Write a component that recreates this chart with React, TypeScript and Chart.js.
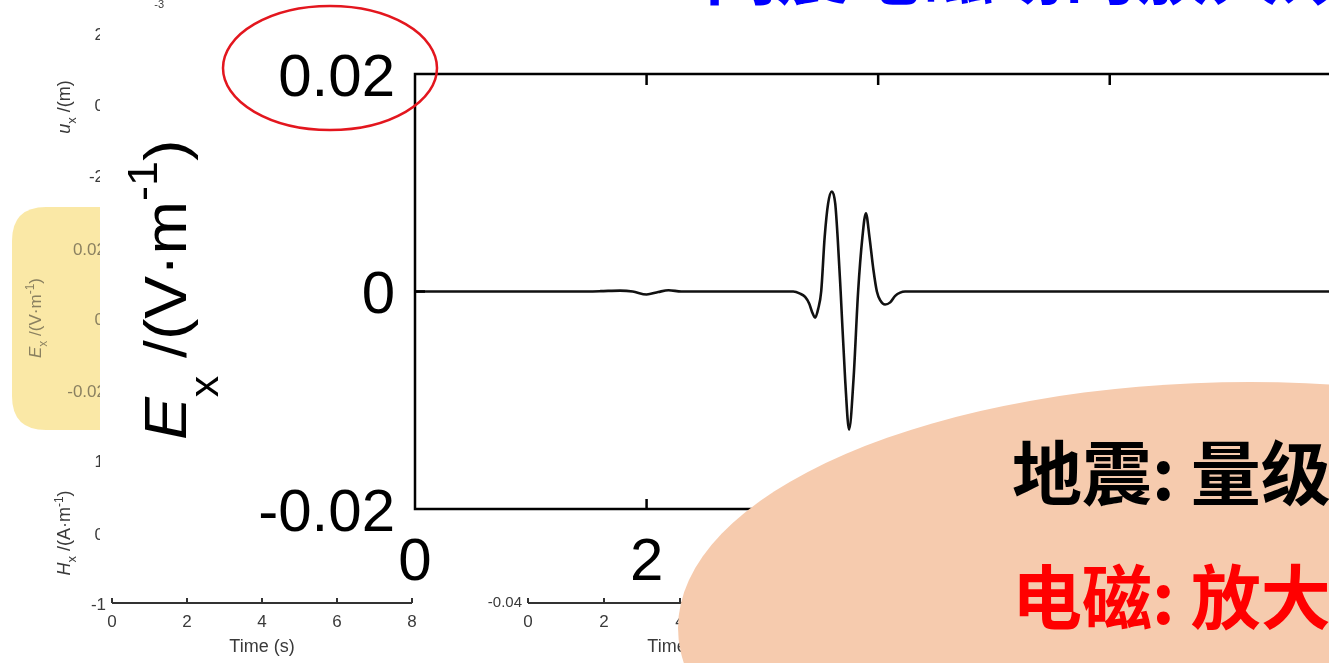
import React, { useEffect, useRef } from "react";
import { Chart, registerables } from "chart.js";

Chart.register(...registerables);

// ---- data ----
const timeS = [
  0, 0.5, 1.0, 1.4, 1.6, 1.77, 1.88, 2.0, 2.1, 2.19, 2.3, 2.6, 3.0,
  3.266, 3.326, 3.369, 3.404, 3.43, 3.456, 3.482, 3.508, 3.538, 3.568, 3.6,
  3.629, 3.65, 3.676, 3.715, 3.749, 3.787, 3.827, 3.864, 3.894, 3.925, 3.959,
  3.989, 4.017, 4.06, 4.104, 4.147, 4.19, 4.233,
  4.6, 5.0, 5.5, 6.0, 7.0, 8.0,
];
const exVm = [
  0, 0, 0, 0, 0.00003, 0.00008, 0, -0.00028, -0.00005, 0.00012, 0, 0, 0,
  0, -0.0002, -0.0005, -0.0011, -0.0019, -0.0024, -0.0016, 0, 0.005, 0.0081, 0.0092,
  0.0081, 0.005, 0, -0.0081, -0.0127, -0.0081, 0, 0.005, 0.0072, 0.005, 0.002,
  0, -0.0008, -0.0012, -0.001, -0.0004, -0.0001, 0,
  0, 0, 0, 0, 0, 0,
];
const xTickValues = [0, 2, 4, 6, 8];
const yTickValues = [-0.02, 0, 0.02];
const yTickLabels = ["-0.02", "0", "0.02"];
const smallTimeTicks = ["0", "2", "4", "6", "8"];

const SANS = '"Liberation Sans", Arial, sans-serif';
const CJK = '"Noto Sans CJK SC", "Noto Sans CJK TC", sans-serif';

type Seg = { t: string; font: string; dy?: number };

function drawRich(
  ctx: CanvasRenderingContext2D,
  segs: Seg[],
  x: number,
  y: number,
  angle: number,
  scaleX: number,
  center: boolean,
  color: string
) {
  ctx.save();
  ctx.translate(x, y);
  ctx.rotate(angle);
  ctx.scale(scaleX, 1);
  ctx.fillStyle = color;
  ctx.textAlign = "left";
  ctx.textBaseline = "alphabetic";
  let total = 0;
  for (const s of segs) {
    ctx.font = s.font;
    total += ctx.measureText(s.t).width;
  }
  let cx = center ? -total / 2 : 0;
  for (const s of segs) {
    ctx.font = s.font;
    ctx.fillText(s.t, cx, s.dy || 0);
    cx += ctx.measureText(s.t).width;
  }
  ctx.restore();
}

function roundRect(ctx: CanvasRenderingContext2D, x: number, y: number, w: number, h: number, r: number) {
  ctx.beginPath();
  ctx.moveTo(x + r, y);
  ctx.lineTo(x + w - r, y);
  ctx.quadraticCurveTo(x + w, y, x + w, y + r);
  ctx.lineTo(x + w, y + h - r);
  ctx.quadraticCurveTo(x + w, y + h, x + w - r, y + h);
  ctx.lineTo(x + r, y + h);
  ctx.quadraticCurveTo(x, y + h, x, y + h - r);
  ctx.lineTo(x, y + r);
  ctx.quadraticCurveTo(x, y, x + r, y);
  ctx.closePath();
}

const decoPlugin = {
  id: "deco",
  beforeDraw(chart: any) {
    const ctx: CanvasRenderingContext2D = chart.ctx;
    ctx.save();
    ctx.fillStyle = "#ffffff";
    ctx.fillRect(0, 0, chart.width, chart.height);

    const gray = "#3a3a3a";
    ctx.fillStyle = gray;
    ctx.textAlign = "right";
    ctx.textBaseline = "middle";
    ctx.font = `11px ${SANS}`;
    ctx.fillText("-3", 164, 5);
    ctx.font = `17px ${SANS}`;
    ctx.fillText("2", 104, 35);
    ctx.fillText("0", 104, 106);
    ctx.fillText("-2", 104, 177);
    drawRich(ctx, [
      { t: "u", font: `italic 18px ${SANS}` },
      { t: "x", font: `13px ${SANS}`, dy: 6 },
      { t: " /(m)", font: `18px ${SANS}` },
    ], 70, 107, -Math.PI / 2, 1, true, gray);

    ctx.fillStyle = "#FAE8A6";
    roundRect(ctx, 12, 207, 140, 223, 34);
    ctx.fill();
    const olive = "#8a8060";
    ctx.fillStyle = olive;
    ctx.textAlign = "right";
    ctx.font = `17px ${SANS}`;
    ctx.fillText("0.02", 106, 250);
    ctx.fillText("0", 104, 320);
    ctx.fillText("-0.02", 106, 392);
    drawRich(ctx, [
      { t: "E", font: `italic 17px ${SANS}` },
      { t: "x", font: `12px ${SANS}`, dy: 6 },
      { t: " /(V·m", font: `17px ${SANS}` },
      { t: "-1", font: `12px ${SANS}`, dy: -7 },
      { t: ")", font: `17px ${SANS}` },
    ], 41, 318, -Math.PI / 2, 1, true, olive);

    ctx.fillStyle = gray;
    ctx.textAlign = "right";
    ctx.font = `17px ${SANS}`;
    ctx.fillText("1", 104, 462);
    ctx.fillText("0", 104, 535);
    ctx.fillText("-1", 106, 605);
    drawRich(ctx, [
      { t: "H", font: `italic 18px ${SANS}` },
      { t: "x", font: `13px ${SANS}`, dy: 6 },
      { t: " /(A·m", font: `18px ${SANS}` },
      { t: "-1", font: `12px ${SANS}`, dy: -7 },
      { t: ")", font: `18px ${SANS}` },
    ], 70, 533, -Math.PI / 2, 1, true, gray);

    const drawSmallAxis = (x0: number, step: number) => {
      ctx.strokeStyle = "#333";
      ctx.lineWidth = 2;
      ctx.beginPath();
      ctx.moveTo(x0, 603);
      ctx.lineTo(x0 + step * 4, 603);
      for (let i = 0; i < 5; i++) {
        ctx.moveTo(x0 + step * i, 603);
        ctx.lineTo(x0 + step * i, 598);
      }
      ctx.stroke();
      ctx.fillStyle = gray;
      ctx.textAlign = "center";
      ctx.textBaseline = "middle";
      ctx.font = `17px ${SANS}`;
      smallTimeTicks.forEach((lab, i) => ctx.fillText(lab, x0 + step * i, 622));
      ctx.font = `18px ${SANS}`;
      ctx.fillText("Time (s)", x0 + step * 2, 647);
    };
    drawSmallAxis(112, 75);
    drawSmallAxis(528, 76);
    ctx.fillStyle = gray;
    ctx.textAlign = "right";
    ctx.textBaseline = "middle";
    ctx.font = `15px ${SANS}`;
    ctx.fillText("-0.04", 522, 603);

    ctx.fillStyle = "#ffffff";
    ctx.fillRect(100, 12, chart.width - 100, 580);
    ctx.restore();
  },
  afterDraw(chart: any) {
    const ctx: CanvasRenderingContext2D = chart.ctx;
    const a = chart.chartArea;
    const xs = chart.scales.x;
    const ys = chart.scales.y;
    ctx.save();
    ctx.strokeStyle = "#000";
    ctx.lineWidth = 2.5;
    ctx.strokeRect(a.left, a.top, a.right - a.left, a.bottom - a.top);
    ctx.beginPath();
    xs.ticks.forEach((t: any) => {
      if (t.value <= xs.min || t.value >= xs.max) return;
      const px = xs.getPixelForValue(t.value);
      ctx.moveTo(px, a.bottom);
      ctx.lineTo(px, a.bottom - 10);
      ctx.moveTo(px, a.top);
      ctx.lineTo(px, a.top + 11);
    });
    ys.ticks.forEach((t: any) => {
      if (t.value <= ys.min || t.value >= ys.max) return;
      const py = ys.getPixelForValue(t.value);
      ctx.moveTo(a.left, py);
      ctx.lineTo(a.left + 10, py);
      ctx.moveTo(a.right, py);
      ctx.lineTo(a.right - 10, py);
    });
    ctx.stroke();

    drawRich(ctx, [
      { t: "E", font: `italic 60px ${SANS}` },
      { t: "x", font: `40px ${SANS}`, dy: 32 },
      { t: " /(V·m", font: `60px ${SANS}` },
      { t: "-1", font: `42px ${SANS}`, dy: -29 },
      { t: ")", font: `60px ${SANS}` },
    ], 186, 440, -Math.PI / 2, 1.07, false, "#000");

    ctx.strokeStyle = "#E3161E";
    ctx.lineWidth = 2.5;
    ctx.beginPath();
    ctx.ellipse(330, 68, 107, 62, 0, 0, Math.PI * 2);
    ctx.stroke();

    ctx.fillStyle = "#F6CBAE";
    ctx.beginPath();
    ctx.ellipse(1250, 628, 572, 246, 0, 0, Math.PI * 2);
    ctx.fill();
    ctx.textAlign = "left";
    ctx.textBaseline = "alphabetic";
    ctx.font = `bold 70px ${CJK}`;
    ctx.fillStyle = "#000";
    ctx.fillText("地震: 量级", 1012, 500);
    ctx.fillStyle = "#FF0000";
    ctx.fillText("电磁: 放大", 1012, 624);

    ctx.fillStyle = "#0000FF";
    ctx.font = `bold 72px ${CJK}`;
    ctx.fillText("同震电磁场的放大效应", 705, -2);
    ctx.restore();
  },
};

export default function App() {
  const ref = useRef<HTMLCanvasElement | null>(null);
  useEffect(() => {
    document.body.style.margin = "0";
    document.documentElement.style.overflow = "hidden";
    const canvas = ref.current;
    if (!canvas) return;
    const chart = new Chart(canvas, {
      type: "line",
      data: {
        datasets: [
          {
            data: timeS.map((t, i) => ({ x: t, y: exVm[i] })),
            borderColor: "#111",
            borderWidth: 2.6,
            pointRadius: 0,
            fill: false,
            cubicInterpolationMode: "monotone",
          },
        ],
      },
      options: {
        responsive: false,
        animation: false,
        devicePixelRatio: 1,
        layout: { padding: { top: 74, right: 3, bottom: 0, left: 0 } },
        plugins: { legend: { display: false }, tooltip: { enabled: false } },
        scales: {
          x: {
            type: "linear",
            min: 0,
            max: 8,
            grid: { display: false, drawTicks: false },
            border: { display: false },
            afterBuildTicks: (s: any) => {
              s.ticks = xTickValues.map((v) => ({ value: v }));
            },
            afterFit: (s: any) => {
              s.height = 154;
            },
            ticks: {
              autoSkip: false,
              maxRotation: 0,
              padding: 18,
              color: "#000",
              font: { family: SANS, size: 60 },
              callback: (v: any) => String(v),
            },
          },
          y: {
            type: "linear",
            min: -0.02,
            max: 0.02,
            grid: { display: false, drawTicks: false },
            border: { display: false },
            afterBuildTicks: (s: any) => {
              s.ticks = yTickValues.map((v) => ({ value: v }));
            },
            afterFit: (s: any) => {
              s.width = 415;
            },
            ticks: {
              autoSkip: false,
              padding: 20,
              labelOffset: 5,
              color: "#000",
              font: { family: SANS, size: 60 },
              callback: (v: any) => yTickLabels[yTickValues.indexOf(v)] ?? String(v),
            },
          },
        },
      },
      plugins: [decoPlugin],
    } as any);
    return () => chart.destroy();
  }, []);
  return (
    <div style={{ width: 1329, height: 663, overflow: "hidden", position: "relative", background: "#fff" }}>
      <canvas ref={ref} width={1376} height={663} style={{ display: "block", width: 1376, height: 663 }} />
    </div>
  );
}
